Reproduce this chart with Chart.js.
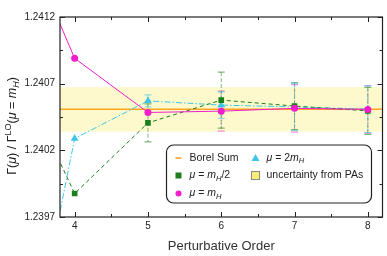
<!DOCTYPE html>
<html>
<head>
<meta charset="utf-8">
<script src="https://cdn.jsdelivr.net/npm/chart.js"></script>
<style>
  html, body { margin: 0; padding: 0; background: #fff; }
  #wrap { width: 387px; height: 256px; position: relative; }
</style>
</head>
<body>
<div id="wrap"><canvas id="chart"></canvas></div>
<script>
// perturbative orders (x) -- order 3 lies left of the visible range
const ORDERS = [3, 4, 5, 6, 7, 8];
const MU_HALF = [1.24105, 1.239876, 1.240406, 1.240577, 1.240532, 1.240496];
const MU_ONE = [1.24218, 1.24089, 1.240484, 1.240494, 1.240515, 1.240507];
const MU_TWO = [1.23755, 1.240289, 1.240571, 1.240539, 1.240526, 1.240509];
const ERR_HALF = [0, 0, 0.000143, 0.00021, 0.000176, 0.000176];
const ERR_ONE = [0, 0, 0, 0.00015, 0.000178, 0.000178];
const ERR_TWO = [0, 0, 0.000045, 0.0001, 0.000176, 0.000176];

const BOREL_SUM = 1.240508;
const PA_BAND = [1.24034, 1.240674];

const X_RANGE = [3.8, 8.2];
const Y_RANGE = [1.2397, 1.2412];
const X_TICKS = [4, 4.5, 5, 5.5, 6, 6.5, 7, 7.5, 8];
const X_TICK_LABELS = ["4", "", "5", "", "6", "", "7", "", "8"];
const Y_TICKS = [1.2397, 1.23995, 1.2402, 1.24045, 1.2407, 1.24095, 1.2412];
const Y_TICK_LABELS = ["1.2397", "", "1.2402", "", "1.2407", "", "1.2412"];

const GREEN = "#1b7f1e";
const MAGENTA = "#ee1fcb";
const CYAN = "#3fc6e6";
const ORANGE = "#ffa51f";
const BAND = "#fdf9cc";
const FONT = '"Liberation Sans", Arial, sans-serif';

Chart.defaults.font.family = FONT;
Chart.defaults.color = "#222";

// draw a run of text pieces (italic / sub / superscript) centred on x,y
function richText(ctx, parts, x, y, size) {
  const fontOf = (p) => {
    const s = p.sub || p.sup ? size * 0.72 : size;
    return (p.italic ? "italic " : "") + s + "px " + FONT;
  };
  let total = 0;
  parts.forEach((p) => {
    ctx.font = fontOf(p);
    p.w = ctx.measureText(p.t).width;
    total += p.w;
  });
  let cx = x - total / 2;
  ctx.textBaseline = "middle";
  ctx.textAlign = "left";
  parts.forEach((p) => {
    ctx.font = fontOf(p);
    let dy = 0;
    if (p.sub) dy = size * 0.3;
    if (p.sup) dy = -size * 0.38;
    ctx.fillText(p.t, cx, y + dy);
    cx += p.w;
  });
  return total;
}

function richLeft(ctx, parts, x, y, size) {
  let total = 0;
  parts.forEach((p) => {
    ctx.font = (p.italic ? "italic " : "") + (p.sub ? size * 0.72 : size) + "px " + FONT;
    total += ctx.measureText(p.t).width;
  });
  richText(ctx, parts, x + total / 2, y, size);
}

const errorSeries = [
  { vals: MU_ONE, errs: ERR_ONE, color: "rgba(238,31,203,0.5)", dash: [2, 2] },
  { vals: MU_HALF, errs: ERR_HALF, color: "rgba(27,127,30,0.55)", dash: [4, 2] },
  { vals: MU_TWO, errs: ERR_TWO, color: "rgba(63,198,230,0.55)", dash: [5, 2, 1, 2] },
];

const backgroundPlugin = {
  id: "background",
  beforeDatasetsDraw(chart) {
    const { ctx, chartArea: a, scales: { x, y } } = chart;
    ctx.save();
    ctx.beginPath();
    ctx.rect(a.left, a.top, a.right - a.left, a.bottom - a.top);
    ctx.clip();
    // uncertainty band from Pade approximants
    const yTop = y.getPixelForValue(PA_BAND[1]);
    const yBot = y.getPixelForValue(PA_BAND[0]);
    ctx.fillStyle = BAND;
    ctx.fillRect(a.left, yTop, a.right - a.left, yBot - yTop);
    // Borel sum
    const yb = y.getPixelForValue(BOREL_SUM);
    ctx.strokeStyle = ORANGE;
    ctx.lineWidth = 1.6;
    ctx.beginPath();
    ctx.moveTo(a.left, yb);
    ctx.lineTo(a.right, yb);
    ctx.stroke();
    // error bars
    errorSeries.forEach((s) => {
      ctx.strokeStyle = s.color;
      ctx.lineWidth = 1;
      ORDERS.forEach((o, i) => {
        const e = s.errs[i];
        if (!e) return;
        const px = x.getPixelForValue(o);
        const y1 = y.getPixelForValue(s.vals[i] + e);
        const y2 = y.getPixelForValue(s.vals[i] - e);
        ctx.setLineDash(s.dash);
        ctx.beginPath();
        ctx.moveTo(px, y1);
        ctx.lineTo(px, y2);
        ctx.stroke();
        ctx.setLineDash([]);
        ctx.lineWidth = 1.3;
        ctx.beginPath();
        ctx.moveTo(px - 3.5, y1);
        ctx.lineTo(px + 3.5, y1);
        ctx.moveTo(px - 3.5, y2);
        ctx.lineTo(px + 3.5, y2);
        ctx.stroke();
        ctx.lineWidth = 1;
      });
    });
    ctx.restore();
  },
};

const framePlugin = {
  id: "frame",
  afterDraw(chart) {
    const { ctx, chartArea: a, scales: { x, y } } = chart;
    ctx.save();
    ctx.strokeStyle = "#222";
    ctx.lineWidth = 1.2;
    ctx.strokeRect(a.left, a.top, a.right - a.left, a.bottom - a.top);
    ctx.lineWidth = 1;
    ctx.beginPath();
    X_TICKS.forEach((v, i) => {
      const px = Math.round(x.getPixelForValue(v)) + 0.5;
      const len = X_TICK_LABELS[i] ? 5 : 3;
      ctx.moveTo(px, a.bottom);
      ctx.lineTo(px, a.bottom - len);
      ctx.moveTo(px, a.top);
      ctx.lineTo(px, a.top + len);
    });
    Y_TICKS.forEach((v, i) => {
      const py = Math.round(y.getPixelForValue(v)) + 0.5;
      const len = Y_TICK_LABELS[i] ? 5 : 3;
      ctx.moveTo(a.left, py);
      ctx.lineTo(a.left + len, py);
      ctx.moveTo(a.right, py);
      ctx.lineTo(a.right - len, py);
    });
    ctx.stroke();

    // y axis title
    ctx.save();
    ctx.translate(13, 126);
    ctx.rotate(-Math.PI / 2);
    ctx.fillStyle = "#222";
    richText(ctx, [
      { t: "\u0393(" }, { t: "\u03bc", italic: true }, { t: ") / \u0393" },
      { t: "LO", sup: true }, { t: "(" }, { t: "\u03bc", italic: true },
      { t: " = " }, { t: "m", italic: true }, { t: "H", italic: true, sub: true },
      { t: ")" },
    ], 0, 0, 12.5);
    ctx.restore();

    // legend
    const lx = 166.5, ly = 145, lw = 205, lh = 58;
    ctx.fillStyle = "#fff";
    ctx.strokeStyle = "#222";
    ctx.lineWidth = 1.2;
    ctx.beginPath();
    ctx.roundRect(lx, ly, lw, lh, 7);
    ctx.fill();
    ctx.stroke();

    const rows = [158, 175.5, 193.5];
    const c1m = 178.5, c1t = 189.5, c2m = 255.5, c2t = 266.5;
    const fs = 10.5;
    ctx.fillStyle = "#222";
    // Borel sum
    ctx.strokeStyle = ORANGE;
    ctx.lineWidth = 1.6;
    ctx.beginPath();
    ctx.moveTo(c1m - 3, rows[0]);
    ctx.lineTo(c1m + 3, rows[0]);
    ctx.stroke();
    richLeft(ctx, [{ t: "Borel Sum" }], c1t, rows[0], fs);
    // mu = mH/2
    ctx.fillStyle = GREEN;
    ctx.fillRect(c1m - 3, rows[1] - 3, 6, 6);
    ctx.fillStyle = "#222";
    richLeft(ctx, [{ t: "\u03bc", italic: true }, { t: " = " }, { t: "m", italic: true },
      { t: "H", italic: true, sub: true }, { t: "/2" }], c1t, rows[1], fs);
    // mu = mH
    ctx.fillStyle = MAGENTA;
    ctx.beginPath();
    ctx.arc(c1m, rows[2], 3, 0, Math.PI * 2);
    ctx.fill();
    ctx.fillStyle = "#222";
    richLeft(ctx, [{ t: "\u03bc", italic: true }, { t: " = " }, { t: "m", italic: true },
      { t: "H", italic: true, sub: true }], c1t, rows[2], fs);
    // mu = 2mH
    ctx.fillStyle = CYAN;
    ctx.beginPath();
    ctx.moveTo(c2m, rows[0] - 4);
    ctx.lineTo(c2m + 4, rows[0] + 3);
    ctx.lineTo(c2m - 4, rows[0] + 3);
    ctx.closePath();
    ctx.fill();
    ctx.fillStyle = "#222";
    richLeft(ctx, [{ t: "\u03bc", italic: true }, { t: " = 2" }, { t: "m", italic: true },
      { t: "H", italic: true, sub: true }], c2t, rows[0], fs);
    // PA band
    ctx.fillStyle = "#f8ee77";
    ctx.strokeStyle = "#888";
    ctx.lineWidth = 1;
    ctx.fillRect(c2m - 4, rows[1] - 4, 8, 8);
    ctx.strokeRect(c2m - 4, rows[1] - 4, 8, 8);
    ctx.fillStyle = "#222";
    richLeft(ctx, [{ t: "uncertainty from PAs" }], c2t, rows[1], fs);
    ctx.restore();
  },
};

function series(vals, color, style, radius, dash) {
  return {
    data: ORDERS.map((o, i) => ({ x: o, y: vals[i] })),
    borderColor: color,
    backgroundColor: color,
    borderWidth: 1,
    borderDash: dash,
    pointStyle: style,
    pointRadius: radius,
    pointBorderWidth: 0,
    pointHoverRadius: radius,
    tension: 0,
  };
}

new Chart(document.getElementById("chart"), {
  type: "line",
  data: {
    datasets: [
      series(MU_ONE, MAGENTA, "circle", 3.5, []),
      series(MU_HALF, GREEN, "rect", 4, [4, 3]),
      series(MU_TWO, CYAN, "triangle", 4.5, [6, 2, 1.5, 2]),
    ],
  },
  options: {
    responsive: true,
    maintainAspectRatio: false,
    animation: false,
    layout: { padding: { top: 17, right: 4, left: 0, bottom: 0 } },
    plugins: { legend: { display: false }, tooltip: { enabled: false } },
    scales: {
      x: {
        type: "linear",
        min: X_RANGE[0],
        max: X_RANGE[1],
        afterBuildTicks: (scale) => {
          scale.ticks = X_TICKS.map((v) => ({ value: v }));
        },
        afterFit: (scale) => { scale.height = 39; },
        ticks: {
          callback: (v, i) => X_TICK_LABELS[i],
          font: { size: 10 },
          padding: 3,
          maxRotation: 0,
          autoSkip: false,
        },
        grid: { display: false, drawTicks: false },
        border: { display: false },
        title: {
          display: true,
          text: "Perturbative Order",
          font: { size: 13 },
          color: "#333",
          padding: { top: 0, bottom: 2 },
        },
      },
      y: {
        type: "linear",
        min: Y_RANGE[0],
        max: Y_RANGE[1],
        afterBuildTicks: (scale) => {
          scale.ticks = Y_TICKS.map((v) => ({ value: v }));
        },
        afterFit: (scale) => { scale.width = 60; },
        ticks: {
          callback: (v, i) => Y_TICK_LABELS[i],
          font: { size: 10 },
          padding: 5,
          autoSkip: false,
        },
        grid: { display: false, drawTicks: false },
        border: { display: false },
      },
    },
  },
  plugins: [backgroundPlugin, framePlugin],
});
</script>
</body>
</html>
